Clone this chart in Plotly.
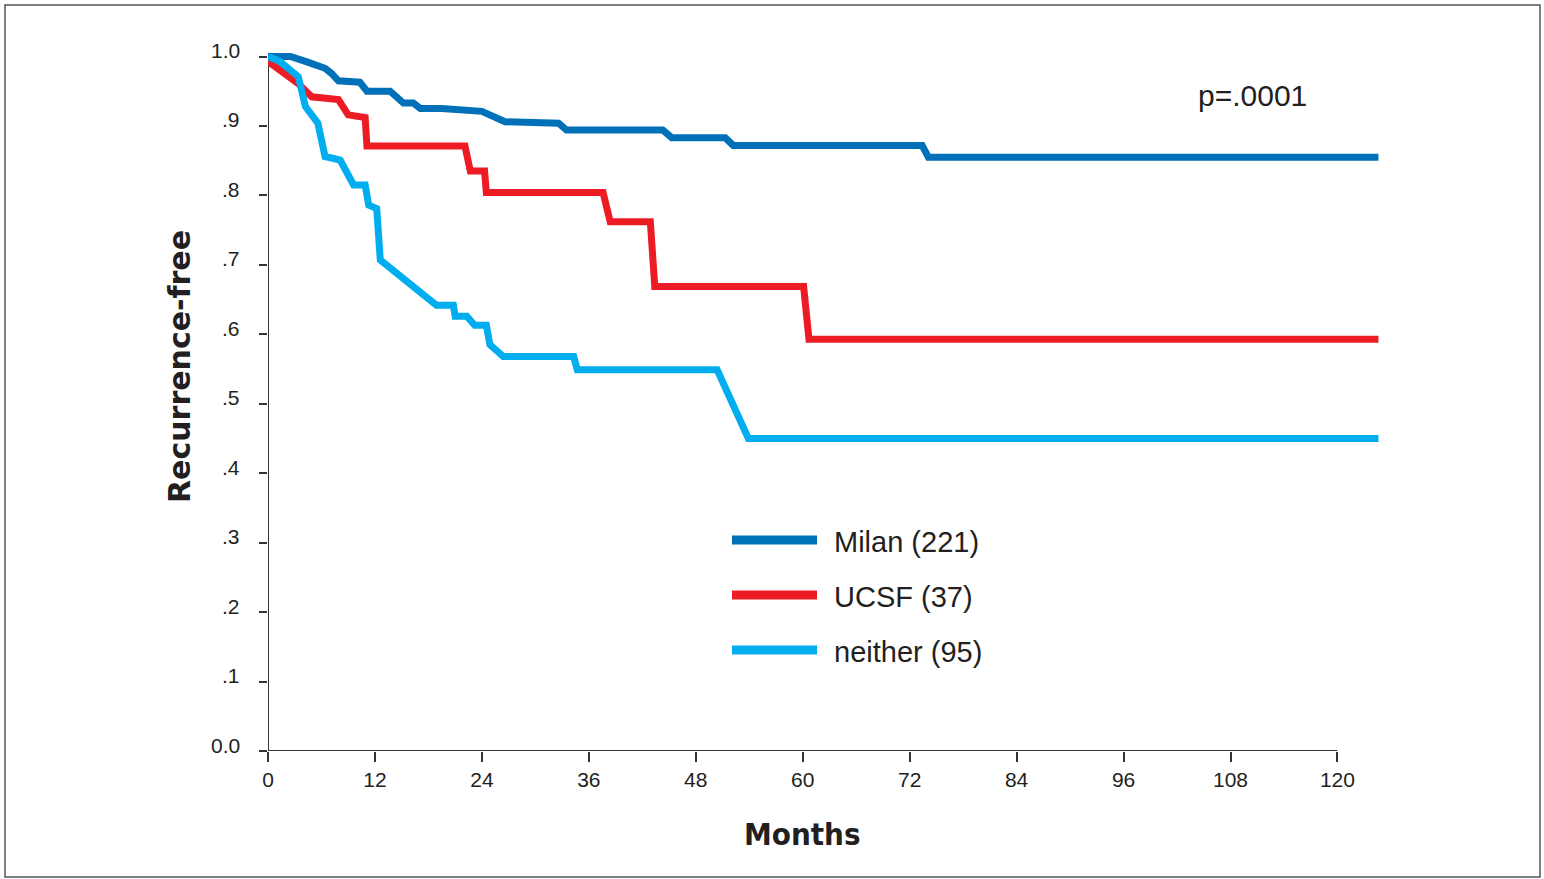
import plotly.graph_objects as go

# ---------------- data ----------------
milan_months = [0, 2.5, 4.2, 6.4, 7.1, 7.9, 10.3, 11.1, 13.7, 15.2, 16.3, 17.1, 19.5, 24.0,
                26.6, 32.6, 33.5, 44.3, 45.3, 51.3, 52.2, 73.4, 74.1, 124.6]
milan_surv = [1.0, 1.0, 0.993, 0.983, 0.976, 0.965, 0.963, 0.950, 0.950, 0.933, 0.933, 0.925,
              0.925, 0.921, 0.906, 0.904, 0.894, 0.894, 0.883, 0.883, 0.872, 0.872, 0.855, 0.855]

ucsf_months = [0, 3.4, 4.9, 7.9, 9.0, 10.9, 11.1, 22.1, 22.7, 24.3, 24.5, 37.6, 38.4, 42.9,
               43.4, 60.1, 60.7, 124.6]
ucsf_surv = [0.993, 0.961, 0.942, 0.938, 0.916, 0.912, 0.871, 0.871, 0.835, 0.835, 0.804,
             0.804, 0.762, 0.762, 0.669, 0.669, 0.593, 0.593]

neither_months = [0, 1.3, 3.4, 4.2, 5.6, 6.4, 8.1, 9.6, 10.9, 11.3, 12.2, 12.6, 18.9, 20.8,
                  21.0, 22.3, 23.2, 24.5, 24.9, 26.4, 34.3, 34.7, 50.4, 53.9, 124.6]
neither_surv = [1.0, 0.993, 0.971, 0.928, 0.904, 0.856, 0.851, 0.815, 0.815, 0.786, 0.781,
                0.707, 0.642, 0.642, 0.626, 0.626, 0.613, 0.613, 0.585, 0.568, 0.568, 0.549,
                0.549, 0.450, 0.450]

series_names = ["Milan (221)", "UCSF (37)", "neither (95)"]
series_colors = ["#0070b8", "#ed1c24", "#00aeef"]

y_tickvals = [0.0, 0.1, 0.2, 0.3, 0.4, 0.5, 0.6, 0.7, 0.8, 0.9, 1.0]
y_ticktext = ["0.0", ".1", ".2", ".3", ".4", ".5", ".6", ".7", ".8", ".9", "1.0"]
x_tickvals = [0, 12, 24, 36, 48, 60, 72, 84, 96, 108, 120]
x_ticktext = ["0", "12", "24", "36", "48", "60", "72", "84", "96", "108", "120"]

p_text = "p=.0001"
x_title = "Months"
y_title = "Recurrence-free"

# ---------------- layout geometry ----------------
W, H = 1544, 879
L, R, T, B = 268, 162, 48, 128
PW, PH = W - L - R, H - T - B


def pxx(x):
    return (x - L) / PW


def pxy(y):
    return (H - B - y) / PH


TEXT = "#231f20"
AX = "#333333"

fig = go.Figure()
for xs, ys, name, col in zip([milan_months, ucsf_months, neither_months],
                             [milan_surv, ucsf_surv, neither_surv],
                             series_names, series_colors):
    fig.add_trace(go.Scatter(x=xs, y=ys, mode="lines", name=name,
                             line=dict(color=col, width=7), showlegend=False))

# axis lines (only over the labelled span)
shapes = [
    dict(type="line", xref="x", yref="y", x0=0, x1=0, y0=0, y1=1.0,
         line=dict(color=AX, width=2), layer="below"),
    dict(type="line", xref="x", yref="y", x0=0, x1=120, y0=0, y1=0,
         line=dict(color=AX, width=2), layer="below"),
    # outer frame
    dict(type="rect", xref="paper", yref="paper", x0=pxx(5), x1=pxx(1540),
         y0=pxy(877), y1=pxy(5), line=dict(color="#555555", width=1.5)),
]

annotations = [
    dict(text=y_title, xref="paper", yref="paper", x=pxx(180), y=pxy(367),
         textangle=-90, showarrow=False, xanchor="center", yanchor="middle",
         font=dict(family="DejaVu Sans", size=30, color=TEXT, weight="bold")),
    dict(text=x_title, xref="paper", yref="paper", x=pxx(802), y=pxy(834),
         showarrow=False, xanchor="center", yanchor="middle",
         font=dict(family="DejaVu Sans Condensed, Liberation Sans",
                   size=31, color=TEXT, weight="bold")),
    dict(text=p_text, xref="paper", yref="paper", x=pxx(1196), y=pxy(96),
         showarrow=False, xanchor="left", yanchor="middle",
         font=dict(family="Liberation Sans, Arial", size=30, color=TEXT)),
]

# y tick labels sit slightly above their ticks in the reference
for v, t in zip(y_tickvals, y_ticktext):
    annotations.append(dict(text=t, xref="paper", yref="y", x=pxx(242), y=v, yshift=6,
                            showarrow=False, xanchor="right", yanchor="middle",
                            font=dict(family="Liberation Sans, Arial", size=21, color=TEXT)))

legend_y = [540, 595, 650]
for name, col, ly in zip(series_names, series_colors, legend_y):
    shapes.append(dict(type="line", xref="paper", yref="paper", x0=pxx(732), x1=pxx(817),
                       y0=pxy(ly), y1=pxy(ly), line=dict(color=col, width=9)))
    annotations.append(dict(text=name, xref="paper", yref="paper", x=pxx(832), y=pxy(ly + 2),
                            showarrow=False, xanchor="left", yanchor="middle",
                            font=dict(family="Liberation Sans, Arial", size=29, color=TEXT)))

fig.update_layout(
    width=W, height=H,
    margin=dict(l=L, r=R, t=T, b=B, pad=0),
    paper_bgcolor="white", plot_bgcolor="white",
    shapes=shapes, annotations=annotations,
    xaxis=dict(range=[0, 125], showgrid=False, zeroline=False, showline=False,
               tickmode="array", tickvals=x_tickvals, ticktext=x_ticktext,
               ticks="outside", ticklen=10, tickwidth=2, tickcolor=AX,
               ticklabelstandoff=0,
               tickfont=dict(family="Liberation Sans, Arial", size=21, color=TEXT)),
    yaxis=dict(range=[0, PH / 694.5], showgrid=False, zeroline=False, showline=False,
               tickmode="array", tickvals=y_tickvals, ticktext=y_ticktext,
               ticks="outside", ticklen=8, tickwidth=2, tickcolor=AX,
               showticklabels=False),
)

fig.write_html("out.html", post_script="document.body.style.margin='0';",
               config={"displayModeBar": False})
